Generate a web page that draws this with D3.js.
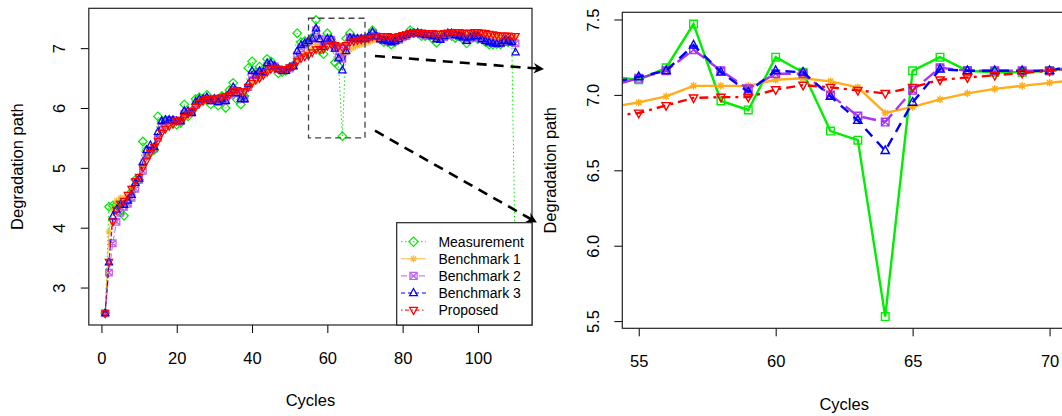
<!DOCTYPE html>
<html>
<head>
<meta charset="utf-8">
<script src="https://cdn.jsdelivr.net/npm/d3@7"></script>
<style>
body { margin: 0; background: #fff; }
svg { display: block; font-family: "Liberation Sans", Arial, sans-serif; }
</style>
</head>
<body>
<svg id="chart" width="1062" height="416"></svg>
<script>
// ---- data ----
var cycles = d3.range(1, 111);

var measurement = [
  2.57, 4.35, 4.37, 4.38, 4.40, 4.20, 4.45, 4.60, 4.80, 4.80,
  5.44, 5.30, 5.25, 5.30, 5.86, 5.78, 5.80, 5.80, 5.75, 5.72,
  5.75, 6.06, 5.86, 5.95, 6.15, 6.18, 6.12, 6.22, 6.06, 6.15,
  6.04, 6.20, 6.00, 6.30, 6.42, 6.14, 6.06, 6.20, 6.67, 6.78,
  6.60, 6.69, 6.65, 6.82, 6.78, 6.70, 6.58, 6.60, 6.62, 6.68,
  6.72, 7.25, 7.10, 7.12, 7.10, 7.18, 7.47, 6.96, 6.90, 7.25,
  7.15, 6.76, 6.70, 5.53, 7.16, 7.25, 7.16, 7.15, 7.15, 7.16,
  7.19, 7.30, 7.20, 7.15, 7.10, 7.10, 7.06, 7.10, 7.15, 7.20,
  7.22, 7.30, 7.25, 7.25, 7.20, 7.20, 7.22, 7.15, 7.09, 7.15,
  7.20, 7.22, 7.20, 7.17, 7.20, 7.15, 7.08, 7.20, 7.20, 7.15,
  7.15, 7.10, 7.06, 7.06, 7.07, 7.06, 7.10, 7.10, 7.10, 3.00
];

var benchmark1 = [
  2.57, 3.93, 4.30, 4.45, 4.50, 4.50, 4.55, 4.68, 4.78, 4.85,
  5.05, 5.20, 5.28, 5.35, 5.50, 5.62, 5.68, 5.72, 5.75, 5.78,
  5.82, 5.86, 5.90, 5.94, 6.00, 6.07, 6.12, 6.15, 6.15, 6.16,
  6.16, 6.18, 6.20, 6.22, 6.28, 6.30, 6.28, 6.28, 6.33, 6.40,
  6.45, 6.50, 6.55, 6.60, 6.65, 6.67, 6.66, 6.66, 6.66, 6.68,
  6.72, 6.80, 6.87, 6.92, 6.95, 6.99, 7.06, 7.06, 7.06, 7.10,
  7.11, 7.09, 7.05, 6.88, 6.92, 6.97, 7.01, 7.04, 7.06, 7.08,
  7.10, 7.13, 7.15, 7.17, 7.18, 7.19, 7.19, 7.19, 7.20, 7.20,
  7.22, 7.24, 7.25, 7.25, 7.24, 7.24, 7.24, 7.23, 7.22, 7.22,
  7.23, 7.24, 7.25, 7.25, 7.25, 7.24, 7.23, 7.23, 7.24, 7.24,
  7.23, 7.22, 7.20, 7.19, 7.18, 7.17, 7.17, 7.17, 7.17, 7.18
];

var benchmark2 = [
  2.57, 3.25, 3.74, 4.10, 4.25, 4.35, 4.40, 4.50, 4.65, 4.80,
  4.95, 5.20, 5.30, 5.32, 5.50, 5.70, 5.78, 5.80, 5.80, 5.78,
  5.78, 5.90, 5.94, 5.92, 6.05, 6.12, 6.14, 6.16, 6.12, 6.14,
  6.10, 6.13, 6.12, 6.22, 6.30, 6.25, 6.17, 6.15, 6.35, 6.55,
  6.55, 6.60, 6.60, 6.70, 6.72, 6.70, 6.65, 6.63, 6.63, 6.66,
  6.70, 6.88, 7.00, 7.06, 7.11, 7.16, 7.30, 7.16, 7.04, 7.14,
  7.14, 7.00, 6.86, 6.82, 7.03, 7.18, 7.16, 7.16, 7.16, 7.16,
  7.18, 7.25, 7.20, 7.15, 7.13, 7.12, 7.10, 7.12, 7.14, 7.18,
  7.20, 7.24, 7.25, 7.25, 7.23, 7.22, 7.21, 7.20, 7.16, 7.15,
  7.18, 7.22, 7.23, 7.22, 7.20, 7.18, 7.13, 7.16, 7.18, 7.18,
  7.15, 7.13, 7.10, 7.09, 7.08, 7.08, 7.10, 7.11, 7.10, 7.08
];

var benchmark3 = [
  2.57, 3.42, 4.19, 4.30, 4.38, 4.38, 4.45, 4.55, 4.75, 4.82,
  5.10, 5.30, 5.38, 5.35, 5.60, 5.78, 5.80, 5.80, 5.80, 5.78,
  5.78, 5.95, 5.95, 5.92, 6.10, 6.15, 6.15, 6.18, 6.12, 6.15,
  6.10, 6.15, 6.12, 6.25, 6.35, 6.25, 6.15, 6.15, 6.40, 6.62,
  6.55, 6.62, 6.60, 6.75, 6.75, 6.70, 6.65, 6.62, 6.62, 6.68,
  6.70, 6.95, 7.05, 7.08, 7.12, 7.16, 7.33, 7.15, 7.02, 7.16,
  7.15, 6.99, 6.83, 6.63, 6.95, 7.17, 7.16, 7.16, 7.16, 7.16,
  7.20, 7.27, 7.20, 7.15, 7.13, 7.12, 7.10, 7.12, 7.15, 7.20,
  7.22, 7.25, 7.25, 7.26, 7.24, 7.22, 7.22, 7.20, 7.15, 7.14,
  7.20, 7.25, 7.25, 7.22, 7.20, 7.18, 7.12, 7.18, 7.20, 7.20,
  7.15, 7.12, 7.10, 7.08, 7.07, 7.08, 7.12, 7.12, 7.10, 6.93
];

var proposed = [
  2.57, 3.43, 4.10, 4.30, 4.40, 4.45, 4.55, 4.65, 4.78, 4.85,
  5.00, 5.12, 5.25, 5.35, 5.45, 5.58, 5.65, 5.70, 5.73, 5.78,
  5.80, 5.85, 5.90, 5.95, 6.02, 6.08, 6.12, 6.15, 6.15, 6.16,
  6.17, 6.18, 6.20, 6.22, 6.28, 6.30, 6.28, 6.28, 6.35, 6.42,
  6.47, 6.50, 6.55, 6.60, 6.65, 6.67, 6.65, 6.65, 6.65, 6.68,
  6.70, 6.78, 6.83, 6.86, 6.88, 6.93, 6.98, 6.985, 6.985, 7.035,
  7.065, 7.05, 7.03, 7.01, 7.05, 7.10, 7.115, 7.13, 7.145, 7.16,
  7.17, 7.20, 7.20, 7.20, 7.20, 7.20, 7.19, 7.18, 7.20, 7.22,
  7.23, 7.25, 7.26, 7.26, 7.26, 7.25, 7.25, 7.25, 7.24, 7.24,
  7.25, 7.26, 7.27, 7.27, 7.27, 7.26, 7.25, 7.26, 7.27, 7.27,
  7.26, 7.25, 7.24, 7.23, 7.22, 7.21, 7.21, 7.21, 7.20, 7.20
];

var seriesNames = ["Measurement", "Benchmark 1", "Benchmark 2", "Benchmark 3", "Proposed"];
var leftXTicks = [0, 20, 40, 60, 80, 100],
    leftYTicks = [3, 4, 5, 6, 7];
var rightXTicks = [55, 60, 65, 70],
    rightYTicks = [5.5, 6.0, 6.5, 7.0, 7.5];
var zoomCycles = [55, 70], zoomValues = [5.5, 7.5];

// ---- styles ----
var styles = [
  {color: "#00ee00", dashL: "1.5,2.5", dashR: null,     markL: "diamond", markR: "square", op: 1},
  {color: "#ffa500", dashL: null,      dashR: null,     markL: "star",    markR: "star",   op: 0.75},
  {color: "#a020f0", dashL: "6,3",     dashR: "14,6",   markL: "boxx",    markR: "boxx",   op: 0.7},
  {color: "#0000ff", dashL: "4,3",     dashR: "10,7",   markL: "tri",     markR: "tri",    op: 1},
  {color: "#ff0000", dashL: "1.5,2.5,4,2.5", dashR: "3,5,9,5", markL: "tridown", markR: "tridown", op: 1}
];

var allSeries = [measurement, benchmark1, benchmark2, benchmark3, proposed];
var series = seriesNames.map(function(name, i) {
  return {name: name, style: styles[i],
          values: cycles.map(function(c, j) { return {x: c, y: allSeries[i][j]}; })};
});

function markerPath(type, r) {
  switch (type) {
    case "diamond": var d = r * 1.3;
      return "M0," + (-d) + "L" + d + ",0L0," + d + "L" + (-d) + ",0Z";
    case "square":
      return "M" + (-r) + "," + (-r) + "h" + 2 * r + "v" + 2 * r + "h" + (-2 * r) + "Z";
    case "boxx":
      return "M" + (-r) + "," + (-r) + "h" + 2 * r + "v" + 2 * r + "h" + (-2 * r) + "Z" +
             "M" + (-r) + "," + (-r) + "L" + r + "," + r + "M" + r + "," + (-r) + "L" + (-r) + "," + r;
    case "star": var k = r * 0.72;
      return "M" + (-r) + ",0H" + r + "M0," + (-r) + "V" + r +
             "M" + (-k) + "," + (-k) + "L" + k + "," + k + "M" + k + "," + (-k) + "L" + (-k) + "," + k;
    case "tri": var h = r * 1.25;
      return "M0," + (-h) + "L" + (r * 1.1) + "," + (h * 0.6) + "L" + (-r * 1.1) + "," + (h * 0.6) + "Z";
    case "tridown": var h2 = r * 1.25;
      return "M0," + h2 + "L" + (r * 1.1) + "," + (-h2 * 0.6) + "L" + (-r * 1.1) + "," + (-h2 * 0.6) + "Z";
  }
}

var svg = d3.select("#chart");
var fontSize = 16.5;

// R style padded domain
function padded(ext) { var p = (ext[1] - ext[0]) * 0.04; return [ext[0] - p, ext[1] + p]; }

// ================= left panel =================
var L = {left: 88.8, right: 532, top: 8.3, bottom: 325};
var xL = d3.scaleLinear().domain(padded(d3.extent(cycles))).range([L.left, L.right]);
var yL = d3.scaleLinear()
    .domain(padded(d3.extent(d3.merge(allSeries))))
    .range([L.bottom, L.top]);

var gL = svg.append("g");

var lineL = d3.line().x(function(d) { return xL(d.x); }).y(function(d) { return yL(d.y); });

series.forEach(function(s) {
  var g = gL.append("g").attr("opacity", s.style.op);
  g.append("path")
      .attr("d", lineL(s.values))
      .attr("fill", "none")
      .attr("stroke", s.style.color)
      .attr("stroke-width", 1)
      .attr("stroke-dasharray", s.style.dashL);
  g.selectAll(".pt")
    .data(s.values)
    .enter().append("path")
      .attr("transform", function(d) { return "translate(" + xL(d.x) + "," + yL(d.y) + ")"; })
      .attr("d", markerPath(s.style.markL, 3.3))
      .attr("fill", "none")
      .attr("stroke", s.style.color)
      .attr("stroke-width", 1.25);
});

// zoom window
gL.append("rect")
    .attr("x", xL(zoomCycles[0]))
    .attr("y", yL(zoomValues[1]))
    .attr("width", xL(zoomCycles[1]) - xL(zoomCycles[0]))
    .attr("height", yL(zoomValues[0]) - yL(zoomValues[1]))
    .attr("fill", "none")
    .attr("stroke", "#444")
    .attr("stroke-width", 1.3)
    .attr("stroke-dasharray", "6,4");

// axes
gL.append("g")
    .attr("transform", "translate(0," + L.bottom + ")")
    .call(d3.axisBottom(xL).tickValues(leftXTicks).tickSize(8).tickSizeOuter(0).tickPadding(19))
    .call(function(g) {
      g.selectAll("text").attr("font-size", fontSize).attr("font-family", null).attr("fill", "#000");
      g.select(".domain").remove();
    });

gL.append("g")
    .attr("transform", "translate(" + L.left + ",0)")
    .call(d3.axisLeft(yL).tickValues(leftYTicks).tickSize(8).tickSizeOuter(0).tickFormat(d3.format("d")))
    .call(function(g) {
      g.select(".domain").remove();
      g.selectAll("text")
        .attr("x", null).attr("dy", null)
        .attr("transform", "translate(-24,0) rotate(-90)")
        .attr("text-anchor", "middle")
        .attr("font-size", fontSize).attr("font-family", null).attr("fill", "#000");
    });

gL.append("rect")
    .attr("x", L.left).attr("y", L.top)
    .attr("width", L.right - L.left).attr("height", L.bottom - L.top)
    .attr("fill", "none").attr("stroke", "#222").attr("stroke-width", 1.2);

gL.append("text")
    .attr("x", (L.left + L.right) / 2).attr("y", 406)
    .attr("text-anchor", "middle").attr("font-size", fontSize)
    .text("Cycles");
gL.append("text")
    .attr("transform", "translate(22.5," + (L.top + L.bottom) / 2 + ") rotate(-90)")
    .attr("text-anchor", "middle").attr("font-size", fontSize)
    .text("Degradation path");

// legend (bottom right)
var leg = gL.append("g");
leg.append("rect")
    .attr("x", 396.7).attr("y", 222.7)
    .attr("width", L.right - 396.7).attr("height", L.bottom - 222.7)
    .attr("fill", "#fff").attr("stroke", "#222").attr("stroke-width", 1.2);
series.forEach(function(s, i) {
  var y = 241.7 + i * 17.1;
  var g = leg.append("g").attr("opacity", s.style.op);
  g.append("line")
      .attr("x1", 401).attr("x2", 426).attr("y1", y).attr("y2", y)
      .attr("stroke", s.style.color).attr("stroke-width", 1)
      .attr("stroke-dasharray", s.style.dashL);
  g.append("path")
      .attr("transform", "translate(413.5," + y + ")")
      .attr("d", markerPath(s.style.markL, 3.6))
      .attr("fill", "none").attr("stroke", s.style.color).attr("stroke-width", 1.2);
  leg.append("text")
      .attr("x", 438.4).attr("y", y).attr("dy", "0.36em")
      .attr("font-size", 14)
      .text(s.name);
});

// ================= right panel =================
var R = {left: 622.3, right: 1066, top: 12.3, bottom: 328.3};
var xR = d3.scaleLinear().domain(padded(zoomCycles)).range([R.left, R.right]);
var inWindow = function(v, j) { return cycles[j] >= zoomCycles[0] && cycles[j] <= zoomCycles[1]; };
var yR = d3.scaleLinear()
    .domain(padded(d3.extent(d3.merge(allSeries.map(function(a) { return a.filter(inWindow); })))))
    .range([R.bottom, R.top]);

var gR = svg.append("g");
gR.append("clipPath").attr("id", "clipR")
  .append("rect")
    .attr("x", R.left).attr("y", R.top)
    .attr("width", R.right - R.left).attr("height", R.bottom - R.top);

var lineR = d3.line().x(function(d) { return xR(d.x); }).y(function(d) { return yR(d.y); });
var plotR = gR.append("g").attr("clip-path", "url(#clipR)");

series.forEach(function(s) {
  var vals = s.values.filter(function(d) { return d.x >= 53 && d.x <= 72; });
  var g = plotR.append("g").attr("opacity", s.style.op === 1 ? 1 : 0.9);
  g.append("path")
      .attr("d", lineR(vals))
      .attr("fill", "none")
      .attr("stroke", s.style.color)
      .attr("stroke-width", 2.4)
      .attr("stroke-dasharray", s.style.dashR);
  g.selectAll(".pt")
    .data(vals)
    .enter().append("path")
      .attr("transform", function(d) { return "translate(" + xR(d.x) + "," + yR(d.y) + ")"; })
      .attr("d", markerPath(s.style.markR, 3.8))
      .attr("fill", "none")
      .attr("stroke", s.style.color)
      .attr("stroke-width", 1.4);
});

gR.append("g")
    .attr("transform", "translate(0," + R.bottom + ")")
    .call(d3.axisBottom(xR).tickValues(rightXTicks).tickSize(8).tickSizeOuter(0).tickPadding(19))
    .call(function(g) {
      g.select(".domain").remove();
      g.selectAll("text").attr("font-size", fontSize).attr("font-family", null).attr("fill", "#000");
    });

gR.append("g")
    .attr("transform", "translate(" + R.left + ",0)")
    .call(d3.axisLeft(yR).tickValues(rightYTicks).tickSize(8).tickSizeOuter(0).tickFormat(d3.format(".1f")))
    .call(function(g) {
      g.select(".domain").remove();
      g.selectAll("text")
        .attr("x", null).attr("dy", null)
        .attr("transform", "translate(-23.5,0) rotate(-90)")
        .attr("text-anchor", "middle")
        .attr("font-size", fontSize).attr("font-family", null).attr("fill", "#000");
    });

gR.append("rect")
    .attr("x", R.left).attr("y", R.top)
    .attr("width", R.right - R.left).attr("height", R.bottom - R.top)
    .attr("fill", "none").attr("stroke", "#222").attr("stroke-width", 1.2);

gR.append("text")
    .attr("x", (R.left + R.right) / 2).attr("y", 410)
    .attr("text-anchor", "middle").attr("font-size", fontSize)
    .text("Cycles");
gR.append("text")
    .attr("transform", "translate(556.4," + (R.top + R.bottom) / 2 + ") rotate(-90)")
    .attr("text-anchor", "middle").attr("font-size", fontSize)
    .text("Degradation path");

// ---- connector arrows from zoom window to right panel ----
svg.append("defs").append("marker")
    .attr("id", "head")
    .attr("viewBox", "0 -5 10 10")
    .attr("refX", 9).attr("refY", 0)
    .attr("markerWidth", 4).attr("markerHeight", 4)
    .attr("markerUnits", "strokeWidth")
    .attr("orient", "auto")
  .append("path")
    .attr("d", "M0,-5L10,0L0,5L3,0Z")
    .attr("fill", "#000");

var arrows = [
  {from: [xL(zoomCycles[1]) + 10, yL(6.87)], to: [543, 69]},
  {from: [xL(zoomCycles[1]) + 10, yL(5.62)], to: [536, 222]}
];
svg.selectAll(".arrow")
  .data(arrows)
  .enter().append("line")
    .attr("class", "arrow")
    .attr("x1", function(d) { return d.from[0]; })
    .attr("y1", function(d) { return d.from[1]; })
    .attr("x2", function(d) { return d.to[0]; })
    .attr("y2", function(d) { return d.to[1]; })
    .attr("stroke", "#000")
    .attr("stroke-width", 2.6)
    .attr("stroke-dasharray", "10,7")
    .attr("marker-end", "url(#head)");
</script>
</body>
</html>
